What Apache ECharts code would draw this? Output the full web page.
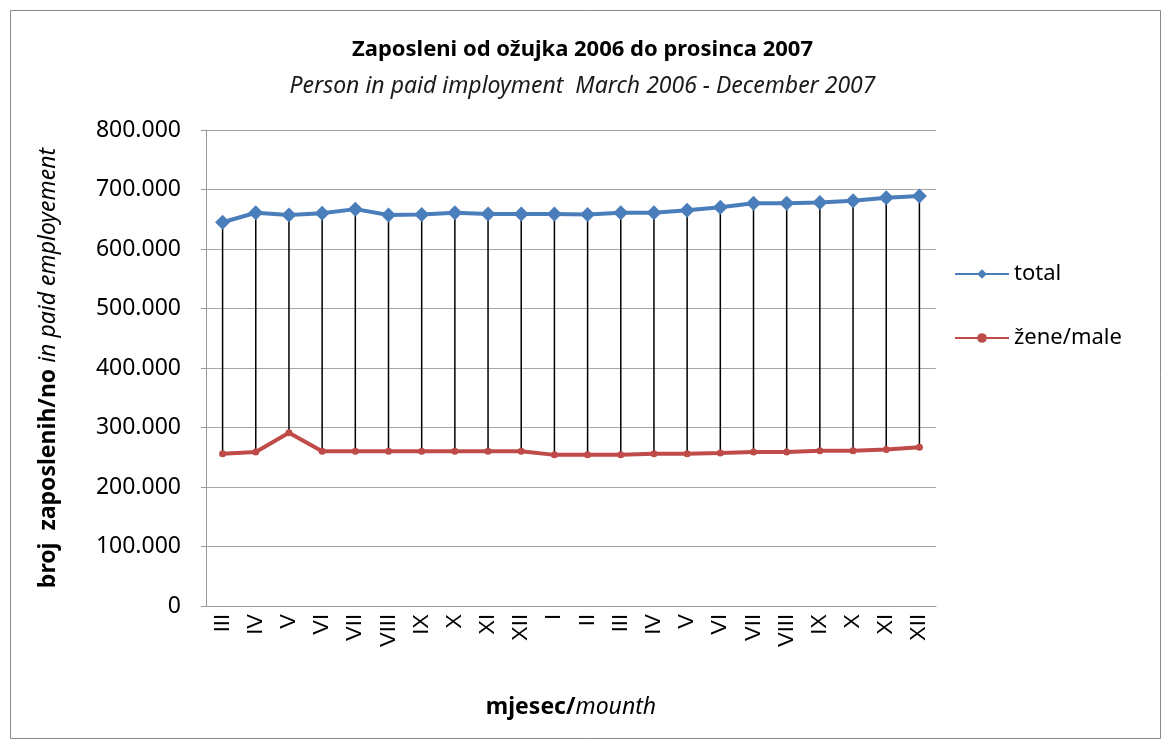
<meta charset="utf-8">
<script src="https://cdn.jsdelivr.net/npm/echarts/dist/echarts.min.js"></script>
<div id="main" style="position: absolute; left: 0; top: 0; width: 1165px; height: 744px;"></div>

<script type="text/javascript">
const months = ['III','IV','V','VI','VII','VIII','IX','X','XI','XII','I','II','III','IV','V','VI','VII','VIII','IX','X','XI','XII']
const total = [645000,661000,657000,660000,667000,657000,658000,661000,659000,659000,659000,658000,661000,661000,665000,670000,677000,677000,678000,681000,686000,689000]
const women = [256000,259000,291000,260000,260000,260000,260000,260000,260000,260000,254000,254000,254000,256000,256000,257000,259000,259000,261000,261000,263000,267000]
const yTicks = [0,100000,200000,300000,400000,500000,600000,700000,800000]

let myChart = echarts.init(main)
const font = '"Noto Sans", sans-serif'

myChart.setOption({
  backgroundColor: '#fff',
  textStyle: {fontFamily: font},
  title: {
    text: 'Zaposleni od ožujka 2006 do prosinca 2007',
    subtext: 'Person in paid imployment  March 2006 - December 2007',
    left: 'center',
    top: 34,
    itemGap: 14,
    textStyle: {fontSize: 22, fontWeight: 'bold', color: '#000', fontFamily: font},
    subtextStyle: {fontSize: 23, fontStyle: 'italic', color: '#1a1a1a', fontFamily: font},
  },
  legend: {
    orient: 'vertical',
    left: 949,
    top: 258,
    itemGap: 42,
    itemWidth: 54,
    itemHeight: 12,
    textStyle: {fontSize: 22, color: '#000', fontFamily: font},
    data: ['total', 'žene/male'],
  },
  grid: {left: 206, right: 229, top: 130, bottom: 138},
  xAxis: {
    type: 'category',
    data: months,
    boundaryGap: true,
    axisLine: {lineStyle: {color: '#999'}},
    axisTick: {show: false},
    axisLabel: {rotate: 90, fontSize: 22, color: '#000', margin: 8, interval: 0, fontFamily: '"Liberation Sans", sans-serif'},
    name: '{b|mjesec/}{i|mounth}',
    nameLocation: 'middle',
    nameGap: 90,
    nameTextStyle: {rich: {
      b: {fontWeight: 'bold', fontSize: 23, color: '#000', fontFamily: font},
      i: {fontStyle: 'italic', fontSize: 23, color: '#000', fontFamily: font},
    }},
  },
  yAxis: {
    type: 'value',
    min: yTicks[0],
    max: yTicks[yTicks.length - 1],
    interval: 100000,
    axisLine: {show: true, lineStyle: {color: '#999'}},
    axisTick: {show: true, length: 5, lineStyle: {color: '#999'}},
    splitLine: {lineStyle: {color: '#a6a6a6'}},
    axisLabel: {
      fontSize: 23, color: '#000', margin: 25, fontFamily: font,
      formatter: v => v === 0 ? '0' : (v / 1000).toFixed(0) + '.000',
    },
    name: '{b|broj  zaposlenih/no }{i|in paid employement}',
    nameLocation: 'middle',
    nameGap: 146,
    nameTextStyle: {rich: {
      b: {fontWeight: 'bold', fontSize: 23, color: '#000', fontFamily: font},
      i: {fontStyle: 'italic', fontSize: 23, color: '#000', fontFamily: font},
    }},
  },
  graphic: [{
    type: 'rect', left: 8, top: 8, z: -1,
    shape: {width: 1150, height: 728},
    style: {fill: 'none', stroke: '#888', lineWidth: 1},
  }],
  series: [
    {
      name: 'hilo',
      type: 'custom',
      data: months.map((m, i) => [i, women[i], total[i]]),
      encode: {x: 0, y: [1, 2]},
      renderItem: (params, api) => {
        const a = api.coord([api.value(0), api.value(1)])
        const b = api.coord([api.value(0), api.value(2)])
        return {type: 'line', shape: {x1: a[0], y1: a[1], x2: b[0], y2: b[1]}, style: {stroke: '#000', lineWidth: 1.5}}
      },
      z: 1,
      silent: true,
    },
    {
      name: 'total',
      type: 'line',
      data: total,
      symbol: 'diamond',
      symbolSize: 15,
      lineStyle: {color: '#4a7ebb', width: 4},
      itemStyle: {color: '#4a7ebb'},
      z: 3,
    },
    {
      name: 'žene/male',
      type: 'line',
      data: women,
      symbol: 'circle',
      symbolSize: 7,
      lineStyle: {color: '#be4b48', width: 4},
      itemStyle: {color: '#be4b48'},
      z: 3,
    },
  ],
})
</script>
